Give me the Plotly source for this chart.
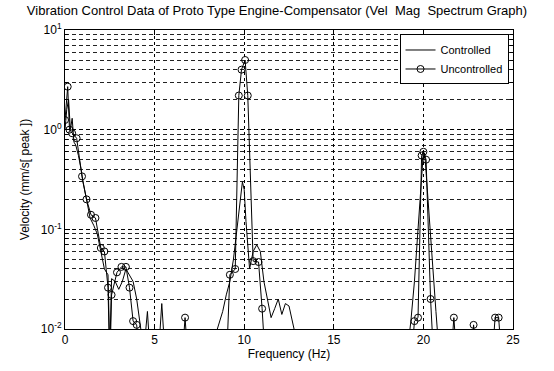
import plotly.graph_objects as go

# Controlled spectrum (Hz, mm/s peak)
ctrl_freq = [0, 0.1, 0.2, 0.3, 0.4, 0.5, 0.6, 0.75, 0.9, 1.0, 1.2, 1.4, 1.6, 1.8, 2.0, 2.2, 2.4, 2.5,
             2.6, 2.8, 3.0, 3.2, 3.4, 3.6, 3.8, 4.0, 4.2, 4.4, 4.6, 4.8, 5.0, 5.2, 5.4, 5.6, 5.8,
             8.2, 8.5, 8.8, 9.0, 9.2, 9.4, 9.6, 9.8, 9.9, 10.0, 10.1, 10.3, 10.5, 10.7, 10.9, 11.1,
             11.3, 11.5, 11.7, 11.9, 12.1, 12.3, 12.5, 12.7, 12.9, 13.1,
             19.0, 19.3, 19.5, 19.7, 19.9, 20.0, 20.1, 20.3, 20.5, 20.7, 20.9, 25.0]
ctrl_vals = [1.0, 1.6, 2.0, 1.0, 1.3, 0.75, 0.7, 0.55, 0.4, 0.3, 0.2, 0.13, 0.11, 0.09, 0.06, 0.04, 0.035, 0.006,
             0.032, 0.03, 0.025, 0.03, 0.04, 0.035, 0.03, 0.02, 0.012, 0.006, 0.015, 0.004, 0.004, 0.005, 0.018, 0.005, 0.004,
             0.006, 0.01, 0.015, 0.022, 0.03, 0.05, 0.1, 0.2, 0.3, 0.25, 0.12, 0.04, 0.06, 0.07, 0.06, 0.03,
             0.02, 0.013, 0.016, 0.02, 0.014, 0.018, 0.017, 0.012, 0.008, 0.004,
             0.004, 0.012, 0.03, 0.1, 0.4, 0.6, 0.5, 0.15, 0.04, 0.015, 0.005, 0.004]

# Uncontrolled spectrum (Hz, mm/s peak)
unc_freq = [0, 0.15, 0.25, 0.4, 0.65, 0.95, 1.2, 1.45, 1.7, 2.0, 2.2, 2.4, 2.5, 2.6, 2.9, 3.15, 3.4, 3.6,
            3.8, 4.0, 4.2, 6.5, 6.7, 6.9, 9.0, 9.2, 9.5, 9.7, 9.85, 10.05, 10.2, 10.5, 10.8, 11.0, 11.2,
            19.3, 19.5, 19.7, 19.9, 20.0, 20.15, 20.4, 20.6, 21.5, 21.7, 21.9, 22.6, 22.8, 23.0,
            23.8, 24.0, 24.2, 24.4]
unc_vals = [1.25, 2.7, 1.0, 0.92, 0.82, 0.34, 0.2, 0.14, 0.13, 0.065, 0.06, 0.026, 0.004, 0.022, 0.037, 0.042, 0.042, 0.026,
            0.012, 0.011, 0.004, 0.004, 0.013, 0.004, 0.004, 0.035, 0.04, 2.2, 4.0, 5.0, 2.2, 0.048, 0.047, 0.016, 0.004,
            0.004, 0.012, 0.013, 0.55, 0.6, 0.5, 0.02, 0.004, 0.004, 0.013, 0.004, 0.004, 0.011, 0.004,
            0.004, 0.013, 0.013, 0.004]

y_tickvals = [0.01, 0.1, 1, 10]
y_ticktext = ["10<sup>-2</sup>", "10<sup>-1</sup>", "10<sup>0</sup>", "10<sup>1</sup>"]
x_tickvals = [0, 5, 10, 15, 20, 25]
y_minor_vals = [m * d for d in (0.01, 0.1, 1) for m in range(2, 10)]

FONT = "Liberation Sans, Arial, sans-serif"

fig = go.Figure()
fig.add_trace(go.Scatter(x=ctrl_freq, y=ctrl_vals, mode="lines", name="Controlled",
                         line=dict(color="black", width=1)))
fig.add_trace(go.Scatter(x=unc_freq, y=unc_vals, mode="lines+markers", name="Uncontrolled",
                         line=dict(color="black", width=1),
                         marker=dict(symbol="circle-open", size=7, color="black", line=dict(width=1))))

fig.update_layout(
    width=554, height=371,
    margin=dict(l=65, r=41, t=30, b=32),
    paper_bgcolor="white", plot_bgcolor="white",
    font=dict(family=FONT, size=12, color="black"),
    title=dict(text="Vibration Control Data of Proto Type Engine-Compensator (Vel  Mag  Spectrum Graph)",
               x=0.5, xanchor="center", y=0.985, yanchor="top", font=dict(size=13, family=FONT)),
    showlegend=True,
    legend=dict(x=0.99, xanchor="right", y=0.985, yanchor="top", bgcolor="white",
                bordercolor="black", borderwidth=1, font=dict(size=11),
                tracegroupgap=0, itemwidth=30),
)
fig.update_xaxes(range=[0, 25], tickvals=x_tickvals, showline=True, linecolor="black", linewidth=1,
                 mirror="ticks", ticks="inside", ticklen=5, tickcolor="black",
                 showgrid=True, gridcolor="black", gridwidth=1, griddash="dot", zeroline=False,
                 title=dict(text="Frequency (Hz)", standoff=3, font=dict(size=12)))
fig.update_yaxes(type="log", range=[-2, 1], tickvals=y_tickvals, ticktext=y_ticktext,
                 showline=True, linecolor="black", linewidth=1, mirror="ticks",
                 ticks="inside", ticklen=5, tickcolor="black",
                 showgrid=True, gridcolor="black", gridwidth=1, griddash="4px,3px", zeroline=False,
                 minor=dict(tickmode="array", tickvals=y_minor_vals, ticks="inside", ticklen=3,
                            tickcolor="black", showgrid=True,
                            gridcolor="#222", gridwidth=0.8, griddash="4px,3px"),
                 title=dict(text="Velocity (mm/s[ peak ])", standoff=8, font=dict(size=12)))

fig.write_html("out.html")
